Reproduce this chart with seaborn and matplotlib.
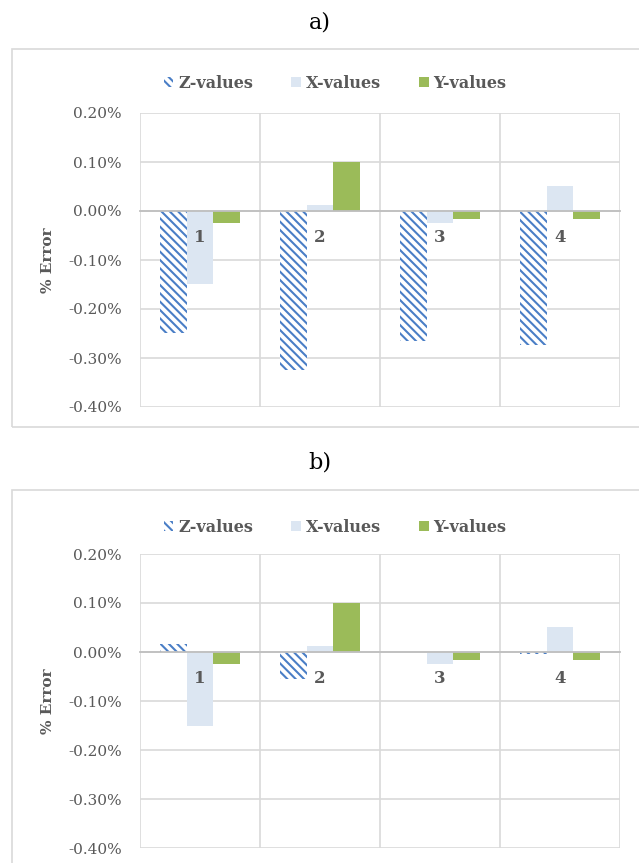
import numpy as np
import pandas as pd
import matplotlib.pyplot as plt
import matplotlib.ticker as ticker
from matplotlib.patches import Patch, Rectangle
import seaborn as sns

sns.set_style("white")
plt.rcParams['font.family'] = ['DejaVu Serif']
plt.rcParams['hatch.linewidth'] = 1.5

# data (% error)
categories = ["1", "2", "3", "4"]
series = ["Z-values", "X-values", "Y-values"]
z_a = [-0.249, -0.325, -0.265, -0.273]
z_b = [0.016, -0.055, 0.0, -0.005]
x_vals = [-0.150, 0.012, -0.024, 0.051]
y_vals = [-0.025, 0.100, -0.017, -0.017]
yticks = [0.2, 0.1, 0.0, -0.1, -0.2, -0.3, -0.4]

blue = "#4A7EC6"
light = "#DCE6F2"
green = "#9BBB59"
grey_txt = "#595959"
grid_c = "#D9D9D9"
hatch = "\\" * 4


def make_df(z):
    rows = []
    for name, vals in zip(series, [z, x_vals, y_vals]):
        for c, v in zip(categories, vals):
            rows.append({"cat": c, "series": name, "val": v})
    return pd.DataFrame(rows)


fig = plt.figure(figsize=(6.39, 8.63), dpi=100)
W, H = 639, 863

# chart area frames
fig.patches.append(Rectangle((12 / W, 1 - 427 / H), 640 / W, 378 / H, transform=fig.transFigure,
                             fill=False, edgecolor=grid_c, linewidth=1.2))
fig.patches.append(Rectangle((12 / W, -0.01), 640 / W, 1 - 490 / H + 0.01, transform=fig.transFigure,
                             fill=False, edgecolor=grid_c, linewidth=1.2))

fig.text(320 / W, 1 - 22 / H, "a)", ha="center", va="center", fontsize=16, color="black")
fig.text(320 / W, 1 - 462 / H, "b)", ha="center", va="center", fontsize=16, color="black")

panels = [(z_a, 113, 83), (z_b, 554, 527)]
for z, top_px, leg_px in panels:
    ax = fig.add_axes([140 / W, 1 - (top_px + 294) / H, 480 / W, 294 / H])
    df = make_df(z)
    sns.barplot(data=df, x="cat", y="val", hue="series", palette=[blue, light, green],
                width=2 / 3, errorbar=None, ax=ax, legend=False, saturation=1)
    for p in ax.containers[0]:
        p.set_facecolor("white")
        p.set_edgecolor(blue)
        p.set_hatch(hatch)
        p.set_linewidth(0)
    for cont in ax.containers[1:]:
        for p in cont:
            p.set_linewidth(0)

    ax.set_ylim(-0.4, 0.2)
    ax.set_xlim(-0.5, 3.5)
    ax.set_yticks(yticks)
    ax.yaxis.set_major_formatter(ticker.FuncFormatter(lambda v, _: f"{v:.2f}%"))
    ax.tick_params(axis="y", length=0, pad=13, labelsize=11, labelcolor=grey_txt)
    ax.set_xticks(range(4), [])
    ax.tick_params(axis="x", length=0)
    # category labels sit just under the zero line, above the bars
    for i, c in enumerate(categories):
        ax.annotate(c, xy=(i, 0), xytext=(0, -19), textcoords="offset points",
                    ha="center", va="center", fontsize=12, fontweight="bold",
                    color=grey_txt, zorder=5)
    ax.set_xticks(np.arange(-0.5, 4, 1), minor=True)
    ax.grid(True, axis="y", which="major", color=grid_c, linewidth=1.2)
    ax.grid(True, axis="x", which="minor", color=grid_c, linewidth=1.2)
    ax.set_axisbelow(True)
    for s in ["top", "left", "right"]:
        ax.spines[s].set_visible(False)
    ax.spines["bottom"].set_position(("data", 0))
    ax.spines["bottom"].set_color("#BFBFBF")
    ax.spines["bottom"].set_linewidth(1.3)
    ax.set_xlabel("")
    ax.set_ylabel("% Error", fontsize=11, fontweight="bold", color=grey_txt)
    ax.yaxis.set_label_coords(-85 / 480, 0.5)

    handles = [Patch(facecolor="white", edgecolor=blue, hatch=hatch, linewidth=0),
               Patch(facecolor=light, linewidth=0),
               Patch(facecolor=green, linewidth=0)]
    fig.legend(handles, series, loc="center", bbox_to_anchor=(335 / W, 1 - leg_px / H),
               ncol=3, frameon=False, handlelength=0.6, handleheight=0.6, handletextpad=0.3,
               columnspacing=2.4, prop={"weight": "bold", "size": 11.5}, labelcolor=grey_txt)

fig.savefig("out.png", dpi=100)
